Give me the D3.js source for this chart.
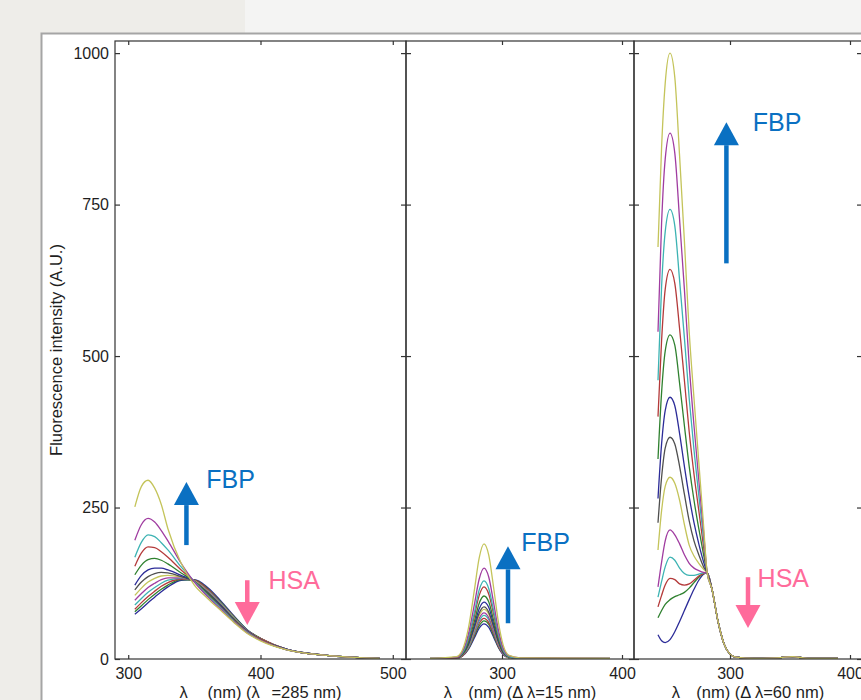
<!DOCTYPE html>
<html>
<head>
<meta charset="utf-8">
<script src="https://cdn.jsdelivr.net/npm/d3@7"></script>
<style>
  body { margin: 0; background: #eeede9; }
  svg { display: block; }
  text { font-family: "Liberation Sans", Arial, Helvetica, sans-serif; }
</style>
</head>
<body>
<div id="chart"></div>
<script>
// ---- data ----
const yTicks = [0, 250, 500, 750, 1000];
const xTicksEm = [300, 400, 500];
const xTicksSync = [300, 400];

// panel 1: emission spectra, lambda_ex = 285 nm (13 titrations, HSA alone first)
const wlEm = [305, 310, 315, 320, 325, 330, 340, 350, 360, 370, 380, 390, 400, 420, 450, 490];
const em = [
  [74, 83, 93, 102, 111, 119, 130, 131, 118, 96, 71, 48, 34, 16, 6, 1],
  [78, 88, 98, 107, 115, 122, 131, 130, 116, 94, 70, 48, 34, 16, 6, 1],
  [82, 93, 103, 112, 120, 126, 132, 130, 115, 93, 69, 47, 34, 16, 6, 1],
  [89, 100, 110, 118, 125, 130, 133, 129, 113, 92, 68, 47, 33, 16, 6, 1],
  [97, 108, 118, 125, 131, 134, 134, 129, 112, 91, 67, 47, 33, 16, 6, 1],
  [105, 117, 127, 133, 137, 138, 135, 129, 111, 90, 67, 46, 33, 16, 6, 1],
  [114, 127, 136, 141, 143, 142, 136, 128, 110, 89, 66, 46, 33, 16, 6, 1],
  [122, 138, 147, 150, 150, 147, 138, 128, 109, 88, 65, 46, 32, 16, 6, 1],
  [139, 155, 164, 166, 163, 157, 142, 128, 108, 86, 64, 45, 32, 15, 6, 1],
  [153, 175, 185, 184, 177, 168, 147, 128, 106, 85, 63, 45, 32, 15, 6, 1],
  [168, 193, 205, 202, 192, 180, 152, 128, 105, 84, 62, 44, 31, 15, 6, 1],
  [196, 222, 232, 226, 212, 195, 158, 127, 103, 82, 61, 43, 31, 15, 6, 1],
  [251, 285, 295, 282, 255, 215, 158, 122, 100, 80, 60, 42, 30, 15, 6, 1]
];

// panel 2: synchronous spectra, delta lambda = 15 nm
const wlSync15 = [240, 262, 267, 272, 277, 281, 285, 289, 293, 297, 301, 306, 315, 390];
const sync15 = [
  [0, 1, 5, 16, 35, 51, 58, 52, 36, 19, 7, 2, 1, 0],
  [0, 1, 5, 17, 38, 55, 63, 57, 39, 20, 8, 2, 1, 0],
  [0, 1, 5, 18, 40, 59, 67, 60, 42, 21, 8, 2, 1, 0],
  [0, 1, 6, 19, 43, 63, 72, 65, 45, 23, 9, 2, 1, 0],
  [0, 2, 6, 21, 46, 67, 76, 68, 47, 24, 9, 2, 1, 0],
  [0, 2, 7, 22, 49, 72, 82, 74, 51, 26, 10, 2, 1, 0],
  [0, 2, 7, 23, 52, 76, 86, 77, 53, 28, 10, 3, 1, 0],
  [0, 2, 8, 25, 56, 83, 94, 85, 58, 30, 11, 3, 1, 0],
  [1, 2, 8, 28, 62, 92, 104, 94, 64, 33, 12, 3, 1, 1],
  [1, 2, 10, 32, 71, 105, 119, 107, 74, 38, 14, 4, 1, 1],
  [1, 3, 10, 35, 77, 114, 129, 116, 80, 41, 15, 4, 1, 1],
  [1, 3, 12, 41, 90, 132, 150, 135, 93, 48, 18, 5, 2, 1],
  [1, 4, 15, 51, 114, 167, 190, 171, 118, 61, 23, 6, 2, 1]
];

// panel 3: synchronous spectra, delta lambda = 60 nm
const wlSync60 = [240, 243, 246, 250, 254, 258, 262, 266, 270, 274, 278, 281,
                  285, 290, 295, 300, 305, 320, 340, 352, 365, 390];
const sync60Tail = [115, 62, 25, 8, 3, 1, 2, 4, 1, 1];
const sync60Head = [
  [40, 30, 27, 32, 45, 62, 80, 98, 115, 130, 140, 142],
  [68, 80, 90, 98, 103, 106, 110, 117, 126, 135, 141, 142],
  [86, 105, 122, 133, 131, 124, 122, 124, 130, 137, 141, 142],
  [102, 128, 152, 168, 163, 150, 141, 138, 138, 140, 142, 142],
  [119, 160, 195, 213, 205, 190, 172, 158, 150, 146, 143, 142],
  [180, 245, 285, 300, 290, 262, 222, 188, 170, 158, 148, 142],
  [225, 300, 348, 366, 355, 318, 272, 228, 195, 172, 152, 142],
  [265, 355, 410, 432, 418, 372, 318, 268, 225, 190, 160, 142],
  [330, 440, 508, 535, 518, 455, 385, 318, 262, 215, 172, 142],
  [400, 526, 610, 643, 620, 545, 460, 375, 305, 245, 185, 142],
  [460, 615, 705, 742, 715, 625, 530, 430, 345, 270, 198, 142],
  [540, 720, 825, 868, 835, 725, 610, 485, 385, 295, 210, 142],
  [680, 845, 950, 1000, 960, 830, 690, 540, 430, 325, 220, 142]
];
const sync60 = sync60Head.map(r => r.concat(sync60Tail));

// arrows: panel index, label, wavelength, tail value, tip value, label wavelength, label value
const arrowPanel = [0, 0, 1, 2, 2];
const arrowText = ["FBP", "HSA", "FBP", "FBP", "HSA"];
const arrowWl = [344, 390, 305, 297, 315];
const arrowFrom = [188, 130, 59, 653, 135];
const arrowTo = [292, 56, 186, 886, 51];
const arrowTextWl = [359, 406, 316, 319, 323];
const arrowTextVal = [282, 115, 178, 871, 119];

// ---- layout ----
const width = 861, height = 700;
const plotTop = 41, plotBottom = 659;
const panels = [
  { x0: 115, x1: 406, domain: [290, 510], ticks: xTicksEm, wl: wlEm, rows: em,
    label: [["λ", 0], ["em", 1], [" (nm) (λ", 0], ["ex", 1], ["=285 nm)", 0]] },
  { x0: 406, x1: 634, domain: [220, 410], ticks: xTicksSync, wl: wlSync15, rows: sync15,
    label: [["λ", 0], ["ex", 1], [" (nm) (Δ λ=15 nm)", 0]] },
  { x0: 634, x1: 862, domain: [220, 410], ticks: xTicksSync, wl: wlSync60, rows: sync60,
    label: [["λ", 0], ["ex", 1], [" (nm) (Δ λ=60 nm)", 0]] }
];

// MATLAB-like colour order, slightly muted like the scan
const colorOrder = ["#2c2c98", "#2f812f", "#b43a3a", "#3db3b3", "#a03ca0", "#c4c45a", "#4f4f4f"];
const blue = "#0a70c2", pink = "#ff6b9b";

const svg = d3.select("#chart").append("svg")
  .attr("width", width).attr("height", height);

// page backdrop and figure sheet
svg.append("rect").attr("x", 245).attr("y", 0).attr("width", width - 245).attr("height", 33)
  .attr("fill", "#f4f4f3");
svg.append("rect").attr("x", 41.5).attr("y", 33.5).attr("width", 900).attr("height", 700)
  .attr("fill", "#fff").attr("stroke", "#a5a5a5").attr("stroke-width", 2);

const y = d3.scaleLinear().domain([0, 1020]).range([plotBottom, plotTop]);

const defs = svg.append("defs");

panels.forEach((p, pi) => {
  const x = d3.scaleLinear().domain(p.domain).range([p.x0, p.x1]);
  p.x = x;
  const g = svg.append("g");

  defs.append("clipPath").attr("id", "clip" + pi)
    .append("rect").attr("x", p.x0).attr("y", plotTop)
    .attr("width", p.x1 - p.x0).attr("height", plotBottom - plotTop);

  const line = d3.line()
    .x((d, i) => x(p.wl[i]))
    .y(d => y(d))
    .curve(d3.curveMonotoneX);

  g.append("g").attr("clip-path", `url(#clip${pi})`)
    .selectAll("path")
    .data(p.rows)
    .join("path")
    .attr("d", line)
    .attr("fill", "none")
    .attr("stroke", (d, i) => colorOrder[i % colorOrder.length])
    .attr("stroke-width", 1.3)
    .attr("stroke-linejoin", "round");

  // frame
  g.append("rect")
    .attr("x", p.x0).attr("y", plotTop)
    .attr("width", p.x1 - p.x0).attr("height", plotBottom - plotTop)
    .attr("fill", "none").attr("stroke", "#333").attr("stroke-width", 1.2);

  // x ticks bottom (with labels) and top (inward)
  const bottomAxis = g.append("g")
    .attr("transform", `translate(0,${plotBottom})`)
    .call(d3.axisBottom(x).tickValues(p.ticks).tickSize(-4).tickSizeOuter(0).tickPadding(9));
  const topAxis = g.append("g")
    .attr("transform", `translate(0,${plotTop})`)
    .call(d3.axisTop(x).tickValues(p.ticks).tickSize(-4).tickSizeOuter(0).tickFormat(""));

  // y ticks inward on both vertical edges
  const leftAxis = g.append("g")
    .attr("transform", `translate(${p.x0},0)`)
    .call(d3.axisRight(y).tickValues(yTicks).tickSize(5).tickSizeOuter(0).tickFormat(""));
  const rightAxis = g.append("g")
    .attr("transform", `translate(${p.x1},0)`)
    .call(d3.axisLeft(y).tickValues(yTicks).tickSize(5).tickSizeOuter(0).tickFormat(""));

  [bottomAxis, topAxis, leftAxis, rightAxis].forEach(a => {
    a.select(".domain").remove();
    a.selectAll("line").attr("stroke", "#333").attr("stroke-width", 1.2);
    a.selectAll("text").attr("font-size", 16).attr("fill", "#1e1e1e")
      .attr("font-family", "Liberation Sans, Arial, sans-serif");
  });

  // x axis title
  const t = g.append("text")
    .attr("x", (p.x0 + p.x1) / 2).attr("y", 698)
    .attr("text-anchor", "middle").attr("font-size", 16.5).attr("fill", "#1e1e1e");
  let shifted = 0;
  p.label.forEach(([s, sub]) => {
    const dy = sub ? 8 - shifted : -shifted;
    shifted = sub ? 8 : 0;
    t.append("tspan").attr("dy", dy).attr("font-size", sub ? 11 : null).text(s);
  });
});

// y axis labels on the first panel
const yAxis = svg.append("g")
  .attr("transform", `translate(${panels[0].x0},0)`)
  .call(d3.axisLeft(y).tickValues(yTicks).tickSize(0).tickPadding(6).tickFormat(d3.format("d")));
yAxis.select(".domain").remove();
yAxis.selectAll("text").attr("font-size", 16).attr("fill", "#1e1e1e")
  .attr("font-family", "Liberation Sans, Arial, sans-serif");

svg.append("text")
  .attr("transform", `translate(62,${(plotTop + plotBottom) / 2}) rotate(-90)`)
  .attr("text-anchor", "middle").attr("font-size", 16.5).attr("fill", "#1e1e1e")
  .text("Fluorescence intensity (A.U.)");

// annotation arrows
const headLen = 23, headHalf = 12.5;
arrowText.forEach((label, k) => {
  const p = panels[arrowPanel[k]];
  const col = label === "FBP" ? blue : pink;
  const ax = p.x(arrowWl[k]);
  const yFrom = y(arrowFrom[k]);
  const yTip = y(arrowTo[k]);
  const dir = yTip < yFrom ? -1 : 1;
  const yBase = yTip - dir * headLen;
  svg.append("line")
    .attr("x1", ax).attr("x2", ax).attr("y1", yFrom).attr("y2", yBase)
    .attr("stroke", col).attr("stroke-width", 4.5);
  svg.append("path")
    .attr("d", `M${ax - headHalf},${yBase}L${ax + headHalf},${yBase}L${ax},${yTip}Z`)
    .attr("fill", col);
  svg.append("text")
    .attr("x", p.x(arrowTextWl[k])).attr("y", y(arrowTextVal[k]))
    .attr("font-size", 25).attr("fill", col)
    .text(label);
});
</script>
</body>
</html>
